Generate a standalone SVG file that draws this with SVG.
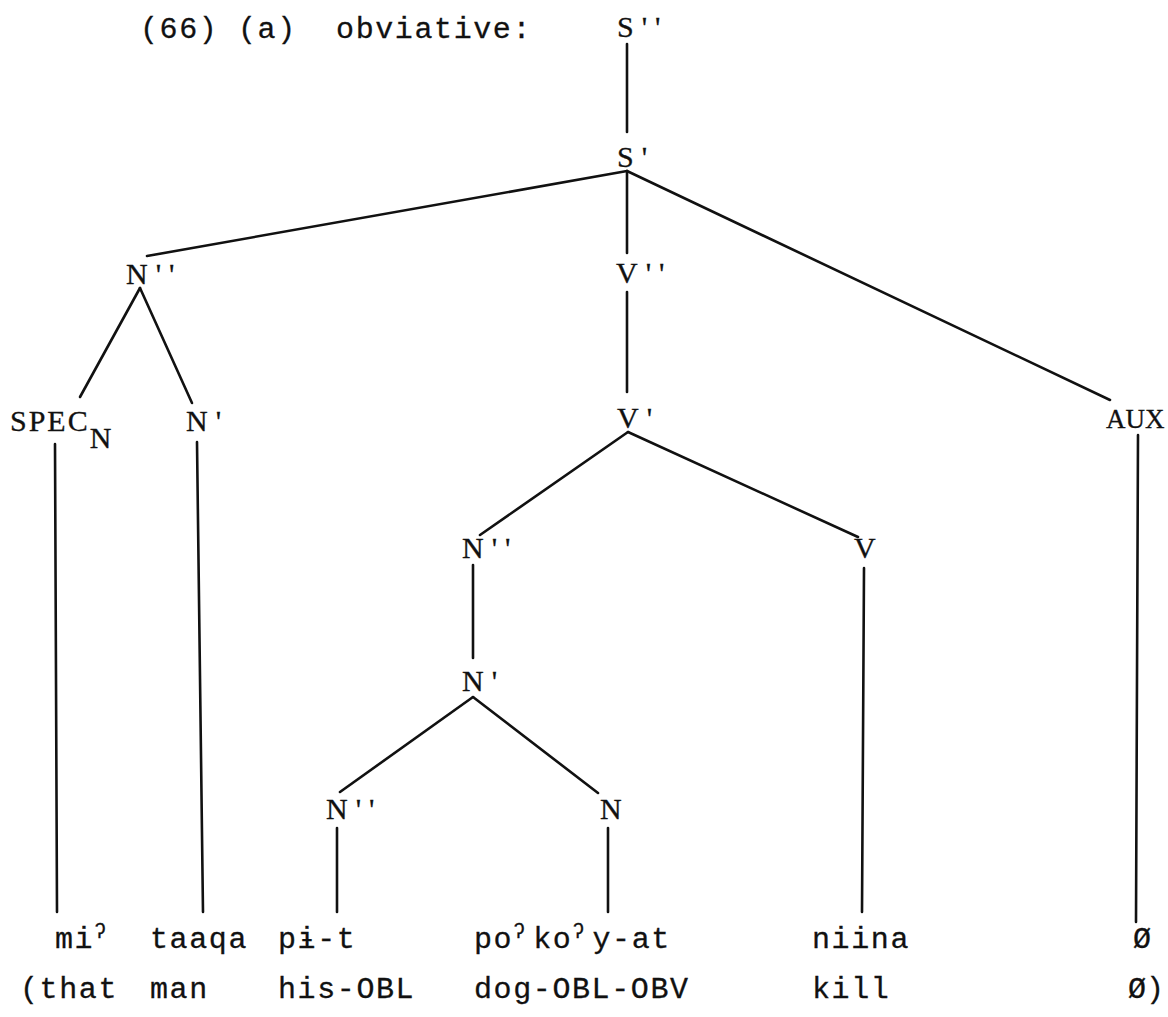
<svg xmlns="http://www.w3.org/2000/svg" width="1168" height="1017" viewBox="0 0 1168 1017">
<style>
.bg{fill:#ffffff}
.lbl{font-family:"Liberation Serif","Times New Roman",serif;font-size:30px;fill:#111;stroke:#111;stroke-width:0.3}
.pr{letter-spacing:8px}
.tw{font-family:"Liberation Mono","Courier New",monospace;font-size:30px;letter-spacing:1.6px;fill:#111;stroke:#111;stroke-width:0.3;white-space:pre}
.sup{font-size:20px}
#connectors line{stroke:#111;stroke-width:2.6;stroke-linecap:round}
</style>
<rect class="bg" x="0" y="0" width="1168" height="1017"/>
<text class="tw" x="140" y="38" xml:space="preserve">(66) (a)  obviative:</text>
<g id="connectors">
<line x1="627" y1="44" x2="627" y2="132"/>
<line x1="627" y1="171" x2="147" y2="256"/>
<line x1="627" y1="171" x2="627" y2="253"/>
<line x1="627" y1="171" x2="1110" y2="400"/>
<line x1="140" y1="288" x2="80" y2="397"/>
<line x1="140" y1="288" x2="192" y2="403"/>
<line x1="627" y1="292" x2="627" y2="392"/>
<line x1="55" y1="444" x2="57" y2="912"/>
<line x1="197" y1="442" x2="203" y2="912"/>
<line x1="1138" y1="435" x2="1136" y2="922"/>
<line x1="628" y1="432" x2="480" y2="535"/>
<line x1="628" y1="432" x2="858" y2="537"/>
<line x1="473" y1="565" x2="473" y2="658"/>
<line x1="864" y1="568" x2="862" y2="912"/>
<line x1="473" y1="697" x2="340" y2="792"/>
<line x1="473" y1="697" x2="598" y2="793"/>
<line x1="337" y1="828" x2="337" y2="912"/>
<line x1="608" y1="828" x2="608" y2="912"/>
</g>
<g id="n-Spp"><text class="lbl pr" x="617" y="37">S''</text></g>
<g id="n-Sp"><text class="lbl pr" x="617" y="167">S'</text></g>
<g id="n-Npp1"><text class="lbl pr" x="126" y="284">N''</text></g>
<g id="n-Vpp"><text class="lbl pr" x="616" y="283">V''</text></g>
<g id="n-SPEC"><text class="lbl" x="10" y="431" style="letter-spacing:2px">SPEC<tspan dy="17">N</tspan></text></g>
<g id="n-Np1"><text class="lbl pr" x="186" y="431">N'</text></g>
<g id="n-Vp"><text class="lbl pr" x="617" y="428">V'</text></g>
<g id="n-AUX"><text class="lbl" x="1106" y="428" style="font-size:27px">AUX</text></g>
<g id="n-Npp2"><text class="lbl pr" x="462" y="558">N''</text></g>
<g id="n-V"><text class="lbl" x="854" y="558">V</text></g>
<g id="n-Np2"><text class="lbl pr" x="462" y="691">N'</text></g>
<g id="n-Npp3"><text class="lbl pr" x="326" y="819">N''</text></g>
<g id="n-N"><text class="lbl" x="600" y="819">N</text></g>
<g id="words">
<text class="tw" x="55" y="948">mi<tspan class="sup" dy="-10">ʔ</tspan></text>
<text class="tw" x="150" y="948">taaqa</text>
<text class="tw" x="278" y="948">pɨ-t</text>
<text class="tw" x="474" y="948">po<tspan class="sup" dy="-10">ʔ</tspan><tspan dy="10" dx="6.4">ko</tspan><tspan class="sup" dy="-10">ʔ</tspan><tspan dy="10" dx="6.4">y-at</tspan></text>
<text class="tw" x="812" y="948">niina</text>
<text class="tw" x="1133" y="948">Ø</text>
<text class="tw" x="20" y="998">(that</text>
<text class="tw" x="150" y="998">man</text>
<text class="tw" x="278" y="998">his-OBL</text>
<text class="tw" x="474" y="998">dog-OBL-OBV</text>
<text class="tw" x="812" y="998">kill</text>
<text class="tw" x="1128" y="998" style="letter-spacing:0px">Ø)</text>
</g>
</svg>
